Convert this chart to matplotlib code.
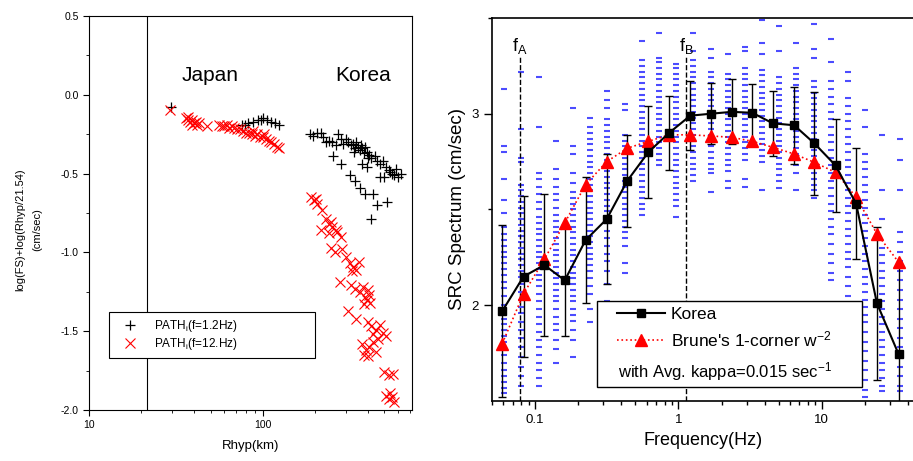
import numpy as np
import matplotlib
matplotlib.use('Agg')
import matplotlib.pyplot as plt
from matplotlib.ticker import LogLocator, NullFormatter, FixedLocator
from matplotlib.lines import Line2D
from matplotlib.patches import Rectangle

plt.rcParams['font.family'] = ['Liberation Sans', 'DejaVu Sans']
plt.rcParams['axes.unicode_minus'] = False
plt.rcParams['mathtext.default'] = 'regular'

# ---------------- Panel izquierdo: atenuacion vs distancia ----------------
# PATH_i(f=1.2Hz)  (cruces negras)
rhyp_12_jp = [29.5, 76, 82, 88, 94, 100, 106, 112, 118, 124, 79, 97]
path_12_jp = [-0.08, -0.19, -0.18, -0.17, -0.16, -0.15, -0.16, -0.17, -0.18, -0.19, -0.19, -0.16]
rhyp_12_kr = [186, 195, 205, 215, 222, 230, 240, 250, 262, 270, 280, 290, 300, 310, 320,
              330, 340, 350, 360, 370, 380, 395, 410, 420, 440, 455, 470, 490, 510, 530,
              550, 570, 600, 620, 580, 345, 365, 335, 385, 400,
              252, 283, 316, 337, 360, 385, 427, 455, 520, 420, 370, 395, 469, 535, 500]
path_12_kr = [-0.25, -0.26, -0.24, -0.24, -0.27, -0.30, -0.29, -0.30, -0.32, -0.25, -0.28,
              -0.31, -0.28, -0.30, -0.32, -0.31, -0.34, -0.33, -0.35, -0.34, -0.37, -0.36,
              -0.38, -0.40, -0.39, -0.42, -0.44, -0.42, -0.46, -0.48, -0.50, -0.51, -0.52,
              -0.50, -0.47, -0.30, -0.32, -0.36, -0.33, -0.40,
              -0.39, -0.44, -0.51, -0.55, -0.59, -0.63, -0.63, -0.70, -0.68, -0.79, -0.44,
              -0.46, -0.52, -0.49, -0.52]

# PATH_i(f=12.Hz)  (aspas rojas)
rhyp_120_jp = [29.3, 36, 37, 38, 39, 40, 41, 42, 43, 37, 39, 47.6, 56, 58, 60, 62, 64, 66,
               68, 71, 74, 77, 80, 83, 86, 90, 93, 96, 100, 104, 108, 112, 116, 120, 124, 88, 102]
path_120_jp = [-0.095, -0.15, -0.16, -0.17, -0.16, -0.18, -0.17, -0.19, -0.18, -0.14, -0.19,
               -0.20, -0.19, -0.20, -0.20, -0.19, -0.21, -0.20, -0.21, -0.22, -0.22, -0.23,
               -0.24, -0.24, -0.25, -0.26, -0.25, -0.27, -0.27, -0.28, -0.29, -0.30, -0.31,
               -0.33, -0.34, -0.23, -0.25]
rhyp_120_kr = [190, 196, 202, 205, 218, 230, 240, 250, 262, 245, 215, 240, 265, 280, 245, 260,
               285, 300, 315, 330, 345, 355, 325, 276, 320, 340, 360, 375, 385, 395, 405, 415,
               380, 400, 308, 344, 400, 420, 445, 470, 490, 510, 460, 430, 370, 390, 410, 430,
               445, 400, 380, 500, 530, 560, 510, 530, 550, 570, 540]
path_120_kr = [-0.65, -0.67, -0.66, -0.69, -0.73, -0.79, -0.82, -0.84, -0.86, -0.81, -0.86,
               -0.88, -0.87, -0.90, -0.97, -1.00, -0.98, -1.03, -1.07, -1.09, -1.11, -1.06,
               -1.12, -1.19, -1.21, -1.23, -1.25, -1.22, -1.28, -1.30, -1.27, -1.32, -1.33,
               -1.24, -1.37, -1.42, -1.44, -1.47, -1.49, -1.46, -1.51, -1.53, -1.55, -1.52,
               -1.58, -1.62, -1.60, -1.57, -1.63, -1.66, -1.65, -1.76, -1.78, -1.77, -1.91,
               -1.93, -1.92, -1.95, -1.89]

r_ref = 21.54

# ---------------- Panel derecho: espectro de fuente ----------------
freq_korea = [0.059, 0.083, 0.116, 0.161, 0.225, 0.316, 0.44, 0.618, 0.861, 1.21,
              1.68, 2.36, 3.28, 4.56, 6.42, 8.9, 12.5, 17.4, 24.3, 34.4]
src_korea = [1.97, 2.15, 2.21, 2.13, 2.34, 2.45, 2.65, 2.80, 2.90, 2.99,
             3.00, 3.01, 3.005, 2.95, 2.94, 2.845, 2.73, 2.53, 2.01, 1.745]
err_korea = [0.45, 0.42, 0.37, 0.29, 0.33, 0.34, 0.24, 0.24, 0.195, 0.18,
             0.16, 0.17, 0.15, 0.17, 0.20, 0.27, 0.245, 0.29, 0.40, 0.46]
src_brune = [1.80, 2.06, 2.24, 2.43, 2.63, 2.75, 2.82, 2.856, 2.89, 2.89,
             2.884, 2.877, 2.856, 2.825, 2.79, 2.746, 2.694, 2.564, 2.373, 2.225]

f_a = 0.0786
f_b = 1.13

# observaciones individuales (guiones azules), una columna por frecuencia
freq_obs = [0.061, 0.080, 0.106, 0.139, 0.184, 0.242, 0.319, 0.421, 0.555, 0.731, 0.964, 1.27,
            1.675, 2.21, 2.91, 3.84, 5.06, 6.67, 8.79, 11.6, 15.3, 20.1, 26.5, 35.0]
obs_01 = [3.13, 2.83, 2.80, 2.66, 2.55, 2.48, 2.41, 2.37, 2.34, 2.31, 2.28, 2.25, 2.22, 2.19, 2.16,
          2.12, 2.09, 2.05, 2.00, 1.96, 1.93, 1.90, 1.87, 1.84, 1.81, 1.78, 1.74, 1.70, 1.66, 1.63,
          1.60, 1.57, 1.54]
obs_02 = [3.22, 2.92, 2.77, 2.75, 2.63, 2.60, 2.57, 2.54, 2.51, 2.48, 2.45, 2.42, 2.39, 2.36, 2.33,
          2.30, 2.27, 2.24, 2.21, 2.18, 2.15, 2.11, 2.07, 2.03, 1.99, 1.96, 1.91, 1.87, 1.83, 1.78,
          1.73, 1.68, 1.63, 1.58]
obs_03 = [3.19, 2.93, 2.69, 2.66, 2.62, 2.58, 2.54, 2.50, 2.46, 2.43, 2.40, 2.37, 2.34, 2.31, 2.28,
          2.25, 2.22, 2.19, 2.16, 2.13, 2.10, 2.06, 2.02, 1.98, 1.94, 1.90, 1.86, 1.82, 1.78, 1.74,
          1.70, 1.66, 1.62, 1.58]
obs_04 = [2.86, 2.71, 2.66, 2.62, 2.58, 2.55, 2.51, 2.47, 2.44, 2.41, 2.38, 2.35, 2.32, 2.29, 2.26,
          2.23, 2.20, 2.17, 2.14, 2.11, 2.08, 2.05, 2.02, 1.98, 1.94, 1.90, 1.87, 1.82, 1.77, 1.70]
obs_05 = [3.03, 2.83, 2.79, 2.69, 2.64, 2.59, 2.56, 2.53, 2.50, 2.47, 2.44, 2.41, 2.38, 2.35, 2.32,
          2.29, 2.26, 2.23, 2.20, 2.17, 2.14, 2.11, 2.08, 2.05, 2.02, 1.98, 1.95, 1.92, 1.87, 1.82,
          1.73]
obs_06 = [2.98, 2.93, 2.90, 2.87, 2.84, 2.81, 2.78, 2.75, 2.72, 2.69, 2.66, 2.63, 2.60, 2.57, 2.54,
          2.51, 2.48, 2.45, 2.42, 2.39, 2.36, 2.33, 2.30, 2.27, 2.24, 2.21, 2.18, 2.14, 2.10, 2.06,
          1.98, 1.91]
obs_07 = [3.12, 3.07, 3.03, 2.97, 2.94, 2.91, 2.88, 2.85, 2.82, 2.79, 2.76, 2.73, 2.70, 2.67, 2.64,
          2.61, 2.58, 2.55, 2.52, 2.49, 2.46, 2.43, 2.39, 2.35, 2.31, 2.27, 2.23, 2.18, 2.11, 2.02,
          1.98]
obs_08 = [3.05, 3.02, 2.89, 2.86, 2.83, 2.80, 2.77, 2.74, 2.71, 2.68, 2.65, 2.62, 2.59, 2.56, 2.53,
          2.50, 2.47, 2.44, 2.41, 2.38, 2.35, 2.31, 2.22, 2.17]
obs_09 = [3.38, 3.28, 3.25, 3.22, 3.19, 3.16, 3.13, 3.10, 3.07, 3.04, 3.01, 2.98, 2.95, 2.92, 2.89,
          2.86, 2.83, 2.80, 2.77, 2.74, 2.71, 2.68, 2.65, 2.62, 2.59, 2.56, 2.53, 2.50, 2.47]
obs_10 = [3.42, 3.29, 3.27, 3.24, 3.21, 3.18, 3.15, 3.12, 3.09, 3.06, 3.03, 3.00, 2.97, 2.94, 2.91,
          2.88, 2.85, 2.82, 2.79, 2.76, 2.73]
obs_11 = [3.26, 3.24, 3.21, 3.18, 3.15, 3.12, 3.09, 3.06, 3.03, 3.00, 2.97, 2.94, 2.91, 2.88, 2.85,
          2.82, 2.79, 2.76, 2.73, 2.70, 2.67, 2.64, 2.61, 2.58, 2.55, 2.52, 2.46]
obs_12 = [3.42, 3.33, 3.28, 3.25, 3.22, 3.19, 3.16, 3.13, 3.10, 3.07, 3.04, 3.01, 2.98, 2.95, 2.92,
          2.89, 2.86, 2.83, 2.80, 2.77, 2.74, 2.71, 2.68, 2.65]
obs_13 = [3.34, 3.29, 3.22, 3.19, 3.16, 3.13, 3.10, 3.07, 3.04, 3.01, 2.98, 2.95, 2.92, 2.89, 2.86,
          2.83, 2.80, 2.77, 2.74, 2.71, 2.69, 2.59]
obs_14 = [3.31, 3.21, 3.18, 3.15, 3.12, 3.09, 3.06, 3.03, 3.00, 2.97, 2.94, 2.91, 2.88, 2.85, 2.82,
          2.79, 2.76, 2.73, 2.70, 2.65, 2.61]
obs_15 = [3.35, 3.33, 3.24, 3.21, 3.18, 3.15, 3.12, 3.09, 3.06, 3.03, 3.00, 2.97, 2.94, 2.91, 2.88,
          2.85, 2.82, 2.79, 2.76, 2.66, 2.62]
obs_16 = [3.49, 3.37, 3.31, 3.23, 3.20, 3.17, 3.14, 3.11, 3.08, 3.05, 3.02, 2.99, 2.96, 2.93, 2.90,
          2.87, 2.84, 2.81, 2.78, 2.75, 2.60]
obs_17 = [3.46, 3.33, 3.19, 3.16, 3.13, 3.10, 3.07, 3.04, 3.01, 2.98, 2.95, 2.92, 2.89, 2.86, 2.83,
          2.80, 2.77, 2.74, 2.71, 2.68, 2.65, 2.61]
obs_18 = [3.37, 3.24, 3.21, 3.18, 3.15, 3.12, 3.09, 3.06, 3.03, 3.00, 2.97, 2.94, 2.91, 2.88, 2.85,
          2.82, 2.79, 2.76, 2.73, 2.69, 2.60]
obs_19 = [3.47, 3.34, 3.29, 3.17, 3.14, 3.11, 3.08, 3.05, 3.02, 2.99, 2.96, 2.93, 2.90, 2.87, 2.84,
          2.81, 2.78, 2.75, 2.72, 2.69, 2.66, 2.63, 2.60, 2.56]
obs_20 = [3.39, 3.27, 3.17, 3.13, 3.09, 3.05, 3.01, 2.97, 2.93, 2.89, 2.85, 2.81, 2.77, 2.73, 2.69,
          2.65, 2.61, 2.57, 2.53, 2.49, 2.45, 2.41, 2.37, 2.32, 2.27, 2.22, 2.17, 2.13]
obs_21 = [3.22, 3.17, 3.08, 3.04, 3.00, 2.96, 2.92, 2.88, 2.84, 2.80, 2.76, 2.72, 2.68, 2.64, 2.60,
          2.56, 2.52, 2.48, 2.44, 2.40, 2.36, 2.32, 2.28, 2.24, 2.20, 2.15, 2.10, 2.05, 2.00, 1.95,
          1.90]
obs_22 = [3.02, 2.93, 2.79, 2.75, 2.71, 2.67, 2.63, 2.59, 2.55, 2.51, 2.47, 2.43, 2.39, 2.35, 2.31,
          2.27, 2.23, 2.19, 2.15, 2.11, 2.07, 2.03, 1.99, 1.95, 1.91, 1.86, 1.81, 1.76, 1.71, 1.66,
          1.61, 1.56, 1.52]
obs_23 = [2.89, 2.60, 2.45, 2.30, 2.26, 2.22, 2.18, 2.14, 2.10, 2.06, 2.02, 1.98, 1.94, 1.90, 1.86,
          1.82, 1.78, 1.74, 1.70, 1.66, 1.62, 1.58, 1.55]
obs_24 = [2.87, 2.76, 2.60, 2.38, 2.33, 2.28, 2.23, 2.18, 2.13, 2.08, 2.03, 1.98, 1.93, 1.88, 1.83,
          1.78, 1.73, 1.68, 1.63, 1.58, 1.55]
obs_cols = [obs_01, obs_02, obs_03, obs_04, obs_05, obs_06, obs_07, obs_08, obs_09, obs_10,
            obs_11, obs_12, obs_13, obs_14, obs_15, obs_16, obs_17, obs_18, obs_19, obs_20,
            obs_21, obs_22, obs_23, obs_24]

fig = plt.figure(figsize=(9.13, 4.61), dpi=100)

# ---------------- izquierda ----------------
ax1 = fig.add_axes([89 / 913, 51 / 461, 323 / 913, 394 / 461])
ax1.plot(rhyp_12_jp + rhyp_12_kr, path_12_jp + path_12_kr, ls='none', marker='+',
         color='black', ms=7, mew=0.9)
ax1.plot(rhyp_120_jp + rhyp_120_kr, path_120_jp + path_120_kr, ls='none', marker='x',
         color='red', ms=7, mew=0.8)
ax1.axvline(r_ref, color='black', lw=0.8)

ax1.set_xscale('log')
ax1.set_xlim(10, 720)
ax1.set_ylim(-2.0, 0.5)
ax1.set_xticks([10, 100])
ax1.set_xticklabels(['10', '100'])
ax1.xaxis.set_minor_locator(LogLocator(base=10, subs=np.arange(2, 10)))
ax1.xaxis.set_minor_formatter(NullFormatter())
ax1.set_yticks([-2.0, -1.5, -1.0, -0.5, 0.0, 0.5])
ax1.set_yticklabels(['-2.0', '-1.5', '-1.0', '-0.5', '0.0', '0.5'])
ax1.yaxis.set_minor_locator(FixedLocator([-1.75, -1.25, -0.75, -0.25, 0.25]))
ax1.tick_params(which='major', direction='out', length=4, width=0.8, labelsize=7.5)
ax1.tick_params(which='minor', direction='out', length=2.5, width=0.6)
ax1.set_xlabel('Rhyp(km)', fontsize=9.5, labelpad=7)
ax1.set_ylabel('log(FS)+log(Rhyp/21.54)\n(cm/sec)', fontsize=8, linespacing=1.9)
ax1.yaxis.set_label_coords(-0.145, 0.457)

ax1.text(49.5, 0.12, 'Japan', fontsize=15, ha='center', va='center')
ax1.text(376, 0.12, 'Korea', fontsize=15, ha='center', va='center')

leg1 = ax1.legend([Line2D([], [], ls='none', marker='+', color='black', ms=7, mew=0.9),
                   Line2D([], [], ls='none', marker='x', color='red', ms=7, mew=0.8)],
                  ['PATH$_{i}$(f=1.2Hz)', 'PATH$_{i}$(f=12.Hz)'],
                  loc='lower left', bbox_to_anchor=(0.062, 0.132, 0.638, 0.112), mode='expand',
                  borderaxespad=0, fontsize=8.5, fancybox=False, edgecolor='black',
                  framealpha=1, handlelength=2.5, labelspacing=0.2, borderpad=0.5)
leg1.get_frame().set_linewidth(0.8)

# ---------------- derecha ----------------
ax2 = fig.add_axes([492 / 913, 60 / 461, 423 / 913, 383 / 461])
for f, col in zip(freq_obs, obs_cols):
    ax2.plot([f] * len(col), col, ls='none', marker='_', color='#0000ff', ms=5, mew=1.5,
             alpha=0.7, zorder=1)

ax2.errorbar(freq_korea, src_korea, yerr=err_korea, fmt='none', ecolor='black', elinewidth=1,
             capsize=3, capthick=1, zorder=3)
ax2.plot(freq_korea, src_brune, color='red', ls=':', lw=1.2, marker='^', ms=8, mec='red',
         mfc='red', zorder=4)
ax2.plot(freq_korea, src_korea, color='black', ls='-', lw=1.5, marker='s', ms=6, zorder=5)

ax2.plot([f_a, f_a], [1.5, 3.3], color='black', ls='--', lw=1, zorder=2)
ax2.plot([f_b, f_b], [1.5, 3.3], color='black', ls='--', lw=1, zorder=2)
ax2.text(f_a, 3.3, 'f$_{A}$', fontsize=13, ha='center', va='bottom')
ax2.text(f_b, 3.3, 'f$_{B}$', fontsize=13, ha='center', va='bottom')

ax2.set_xscale('log')
ax2.set_xlim(0.05, 44.8)
ax2.set_ylim(1.5, 3.5)
ax2.set_xticks([0.1, 1, 10])
ax2.set_xticklabels(['0.1', '1', '10'])
ax2.xaxis.set_minor_locator(LogLocator(base=10, subs=np.arange(2, 10)))
ax2.xaxis.set_minor_formatter(NullFormatter())
ax2.set_yticks([2, 3])
ax2.set_yticklabels(['2', '3'])
ax2.yaxis.set_minor_locator(FixedLocator([2.5, 3.5]))
ax2.tick_params(which='major', direction='out', length=6, width=1, labelsize=9.5)
ax2.tick_params(which='minor', direction='out', length=3, width=1)
for s in ax2.spines.values():
    s.set_linewidth(1.2)
ax2.set_xlabel('Frequency(Hz)', fontsize=13)
ax2.set_ylabel('SRC Spectrum (cm/sec)', fontsize=13.5)

# cuadro de leyenda
ax2.add_patch(Rectangle((0.2475, 0.0373), 0.6279, 0.2246, transform=ax2.transAxes,
                        facecolor='white', edgecolor='black', lw=1, zorder=6))
leg2 = ax2.legend([Line2D([], [], color='black', lw=1.5, marker='s', ms=6),
                   Line2D([], [], color='red', ls=':', lw=1.2, marker='^', ms=8)],
                  ['Korea', "Brune's 1-corner w$^{-2}$"],
                  loc='upper left', bbox_to_anchor=(0.295, 0.245), frameon=False,
                  borderpad=0, borderaxespad=0, fontsize=12.5, handlelength=2.8,
                  handletextpad=0.3, labelspacing=0.4)
leg2.set_zorder(7)
ax2.text(0.298, 0.0765, 'with Avg. kappa=0.015 sec$^{-1}$', transform=ax2.transAxes,
         fontsize=12, va='center', ha='left', zorder=7)

fig.savefig('out.png', dpi=100)
